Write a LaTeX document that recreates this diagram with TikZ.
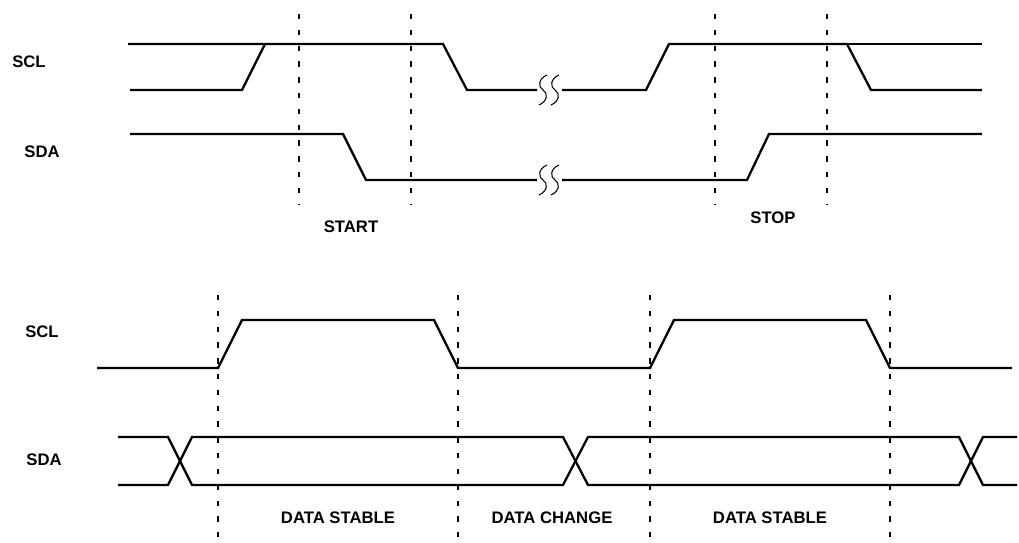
\documentclass[tikz,border=0pt]{standalone}
\usepackage{fontspec}
\setmainfont{Liberation Sans}
\begin{document}
\begin{tikzpicture}[x=0.02cm, y=-0.02cm,
        sig/.style={line width=1.3pt, line join=miter},
        marker/.style={line width=1pt, dash pattern=on 3pt off 6pt},
        brk/.style={line width=0.6pt},
        lbl/.style={font=\bfseries\fontsize{9.5}{11}\selectfont, inner sep=0pt}]
        \useasboundingbox (0,0) rectangle (1019,543);

        % signal names
        \node[lbl] (sclA) at (29,62) {SCL};
        \node[lbl] (sdaA) at (42,152) {SDA};
        \node[lbl] (sclB) at (42,332) {SCL};
        \node[lbl] (sdaB) at (44,460) {SDA};

        % start / stop: SCL
        \draw[sig] (128,44) -- (443,44) -- (467,90) -- (537,90);
        \draw[sig] (130,90) -- (242,90) -- (265,44);
        \draw[sig] (562,90) -- (646,90) -- (669,44) -- (847,44) -- (871,90) -- (982,90);
        \draw[sig] (844,44) -- (982,44);

        % start / stop: SDA
        \draw[sig] (130,134) -- (343,134) -- (366,180) -- (537,180);
        \draw[sig] (562,180) -- (747,180) -- (769,134) -- (982,134);

        % time break
        \foreach \y in {90,180}
          \foreach \x in {543,555}
            \draw[brk] (\x+4,\y-15) .. controls (\x-5,\y-11) and (\x-5,\y-3) .. (\x,\y)
                       .. controls (\x+5,\y+3) and (\x+5,\y+11) .. (\x-4,\y+15);

        % start / stop: markers
        \draw[marker] (299,14) -- (299,205);
        \draw[marker] (411,14) -- (411,205);
        \draw[marker] (715,14) -- (715,205);
        \draw[marker] (827,14) -- (827,205);

        \node[lbl] (start) at (351,227) {START};
        \node[lbl] (stop) at (773,218) {STOP};

        % data: SCL
        \draw[sig] (97,368) -- (218,368) -- (242,320) -- (434,320) -- (458,368) -- (650,368)
                   -- (674,320) -- (866,320) -- (890,368) -- (1012,368);

        % data: SDA
        \draw[sig] (118,437) -- (168,437) -- (192,485) -- (563,485) -- (588,437) -- (959,437)
                   -- (983,485) -- (1017,485);
        \draw[sig] (118,485) -- (168,485) -- (192,437) -- (563,437) -- (588,485) -- (959,485)
                   -- (983,437) -- (1017,437);

        % data: markers
        \draw[marker] (218,295) -- (218,537);
        \draw[marker] (458,295) -- (458,537);
        \draw[marker] (650,295) -- (650,537);
        \draw[marker] (890,295) -- (890,537);

        \node[lbl] (stableA) at (338,518) {DATA STABLE};
        \node[lbl] (change) at (552,518) {DATA CHANGE};
        \node[lbl] (stableB) at (770,518) {DATA STABLE};
\end{tikzpicture}
\end{document}
